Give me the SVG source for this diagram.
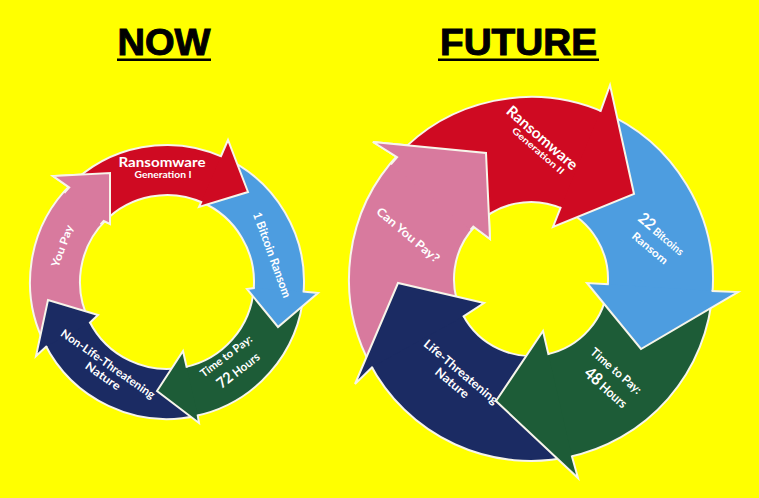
<svg xmlns="http://www.w3.org/2000/svg" width="759" height="498" viewBox="0 0 759 498">
<style>
.rimL{fill:none;stroke:#f7f5ea;stroke-width:52}
.bodyL{fill:none;stroke-width:48}
.rimR{fill:none;stroke:#f7f5ea;stroke-width:107}
.bodyR{fill:none;stroke-width:103}
.head{stroke:#f7f5ea;stroke-width:2;stroke-linejoin:miter}
.rd-b{stroke:#cf0a22}.rd-h{fill:#cf0a22}
.bl-b{stroke:#4d9de0}.bl-h{fill:#4d9de0}
.gr-b{stroke:#1d5c37}.gr-h{fill:#1d5c37}
.nv-b{stroke:#1b2b63}.nv-h{fill:#1b2b63}
.pk-b{stroke:#d87a9e}.pk-h{fill:#d87a9e}
.lbl{fill:#ffffff;font-family:Lato,"DejaVu Sans",sans-serif;font-weight:700;text-anchor:middle}
.ttl{font-family:"Liberation Sans",Arial,sans-serif;font-weight:700;font-size:37px;text-anchor:middle;fill:#000;stroke:#000;stroke-width:1}
</style>
<rect width="759" height="498" fill="#ffff00"/>

<g id="title-now">
<text class="ttl" x="164" y="55" textLength="93" lengthAdjust="spacingAndGlyphs">NOW</text>
<rect x="117" y="58.5" width="94" height="2.5" fill="#000"/>
</g>
<g id="title-future">
<text class="ttl" x="518.5" y="55" textLength="157" lengthAdjust="spacingAndGlyphs">FUTURE</text>
<rect x="438" y="58.5" width="161" height="2.5" fill="#000"/>
</g>

<!-- LEFT cycle (NOW) -->
<g id="now-cycle">
<g id="now-you-pay">
<circle class="rimL" cx="167" cy="282" r="112" transform="rotate(152 167 282)" stroke-dasharray="143.7 2000"/>
<circle class="bodyL pk-b" cx="167" cy="282" r="112" transform="rotate(152 167 282)" stroke-dasharray="143.7 2000"/>
<polyline id="now-pink-head" class="head pk-h" points="100.6,224.3 103.7,220.9 110,224 110,173 53,176 69.2,187.5 64.4,192.8"/>
<text class="lbl" font-size="11" transform="translate(62,246) rotate(-70)" y="4" textLength="44" lengthAdjust="spacingAndGlyphs">You Pay</text>
</g>
<g id="now-nature">
<circle class="rimL" cx="167" cy="282" r="112" transform="rotate(77 167 282)" stroke-dasharray="149.5 2000"/>
<circle class="bodyL nv-b" cx="167" cy="282" r="112" transform="rotate(77 167 282)" stroke-dasharray="149.5 2000"/>
<polyline class="head nv-h" points="89.3,323.3 98,315 48,300 36,356 46.9,345.9"/>
<text class="lbl" font-size="11.5" transform="translate(108,364) rotate(35)" y="4" textLength="112" lengthAdjust="spacingAndGlyphs">Non-Life-Threatening</text>
<text class="lbl" font-size="11.5" transform="translate(103,376) rotate(35)" y="4" textLength="40" lengthAdjust="spacingAndGlyphs">Nature</text>
</g>
<g id="now-time">
<circle class="rimL" cx="167" cy="282" r="112" transform="rotate(4 167 282)" stroke-dasharray="145.6 2000"/>
<circle class="bodyL gr-b" cx="167" cy="282" r="112" transform="rotate(4 167 282)" stroke-dasharray="145.6 2000"/>
<polyline class="head gr-h" points="186.8,367.7 183,351 157,391 199,423 197.6,414.5"/>
<text class="lbl" font-size="11" transform="translate(226,356) rotate(-37)" y="4" textLength="62" lengthAdjust="spacingAndGlyphs">Time to Pay:</text>
<text class="lbl" transform="translate(238,370) rotate(-38)" y="5" textLength="50" lengthAdjust="spacingAndGlyphs"><tspan font-size="15">72</tspan><tspan font-size="12"> Hours</tspan></text>
</g>
<g id="now-bitcoin">
<circle class="rimL" cx="167" cy="282" r="112" transform="rotate(-66.8 167 282)" stroke-dasharray="141.3 2000"/>
<circle class="bodyL bl-b" cx="167" cy="282" r="112" transform="rotate(-66.8 167 282)" stroke-dasharray="141.3 2000"/>
<polyline class="head bl-h" points="254.8,288.1 247,289 278,327 318,293 302.7,291.5"/>
<text class="lbl" font-size="12" transform="translate(272,255) rotate(70)" y="4" textLength="90" lengthAdjust="spacingAndGlyphs">1 Bitcoin Ransom</text>
</g>
<g id="now-ransomware">
<circle class="rimL" cx="167" cy="282" r="112" transform="rotate(-136 167 282)" stroke-dasharray="138.2 2000"/>
<circle class="bodyL rd-b" cx="167" cy="282" r="112" transform="rotate(-136 167 282)" stroke-dasharray="138.2 2000"/>
<polyline class="head rd-h" points="201.7,201.1 199,207 248,192 228,140 220.6,157"/>
<text class="lbl" font-size="13.5" x="162" y="166.5" textLength="87" lengthAdjust="spacingAndGlyphs">Ransomware</text>
<text class="lbl" font-size="8.5" x="163" y="178" textLength="57" lengthAdjust="spacingAndGlyphs">Generation I</text>
</g>
<use href="#now-pink-head"/>
</g>

<!-- RIGHT cycle (FUTURE) -->
<g id="future-cycle">
<g id="future-can-you-pay">
<circle class="rimR" cx="531" cy="279" r="129.5" transform="rotate(151 531 279)" stroke-dasharray="164.5 2000"/>
<circle class="bodyR pk-b" cx="531" cy="279" r="129.5" transform="rotate(151 531 279)" stroke-dasharray="164.5 2000"/>
<polyline id="future-pink-head" class="head pk-h" points="470.6,229.6 473.3,226.5 490,239 486,153 373,142 397.1,157.2 390.9,164.4"/>
<text class="lbl" font-size="12" transform="translate(408,235) rotate(40)" y="4" textLength="78" lengthAdjust="spacingAndGlyphs">Can You Pay?</text>
</g>
<g id="future-nature">
<circle class="rimR" cx="531" cy="279" r="129.5" transform="rotate(77 531 279)" stroke-dasharray="170.6 2000"/>
<circle class="bodyR nv-b" cx="531" cy="279" r="129.5" transform="rotate(77 531 279)" stroke-dasharray="170.6 2000"/>
<polyline class="head nv-h" points="462.8,316.8 484,303 398,283 355,384 372.7,366.7"/>
<text class="lbl" font-size="12" transform="translate(461,372) rotate(40)" y="4" textLength="93" lengthAdjust="spacingAndGlyphs">Life-Threatening</text>
<text class="lbl" font-size="12" transform="translate(452,383) rotate(40)" y="4" textLength="40" lengthAdjust="spacingAndGlyphs">Nature</text>
</g>
<g id="future-time">
<circle class="rimR" cx="531" cy="279" r="129.5" transform="rotate(3.8 531 279)" stroke-dasharray="168.8 2000"/>
<circle class="bodyR gr-b" cx="531" cy="279" r="129.5" transform="rotate(3.8 531 279)" stroke-dasharray="168.8 2000"/>
<polyline class="head gr-h" points="548.6,355 543,331 496,401 578,478 571.7,455.4"/>
<text class="lbl" font-size="12" transform="translate(616,371) rotate(41)" y="4" textLength="63" lengthAdjust="spacingAndGlyphs">Time to Pay:</text>
<text class="lbl" transform="translate(606,388) rotate(41)" y="5" textLength="52" lengthAdjust="spacingAndGlyphs"><tspan font-size="17">48</tspan><tspan font-size="13"> Hours</tspan></text>
</g>
<g id="future-bitcoins">
<circle class="rimR" cx="531" cy="279" r="129.5" transform="rotate(-67.5 531 279)" stroke-dasharray="164.5 2000"/>
<circle class="bodyR bl-b" cx="531" cy="279" r="129.5" transform="rotate(-67.5 531 279)" stroke-dasharray="164.5 2000"/>
<polyline class="head bl-h" points="608.8,284.2 587,283 641,349 738,292 711.6,291"/>
<text class="lbl" transform="translate(661,235) rotate(40)" y="4" textLength="56" lengthAdjust="spacingAndGlyphs"><tspan font-size="16">22</tspan><tspan font-size="11"> Bitcoins</tspan></text>
<text class="lbl" font-size="11" transform="translate(650,248) rotate(40)" y="4" textLength="43" lengthAdjust="spacingAndGlyphs">Ransom</text>
</g>
<g id="future-ransomware">
<circle class="rimR" cx="531" cy="279" r="129.5" transform="rotate(-137.7 531 279)" stroke-dasharray="162.1 2000"/>
<circle class="bodyR rd-b" cx="531" cy="279" r="129.5" transform="rotate(-137.7 531 279)" stroke-dasharray="162.1 2000"/>
<polyline class="head rd-h" points="560.9,206.9 553,227 634,194 610,85 600.3,111.8"/>
<text class="lbl" font-size="15" transform="translate(542,138) rotate(41)" y="5" textLength="89" lengthAdjust="spacingAndGlyphs">Ransomware</text>
<text class="lbl" font-size="9" transform="translate(538,151) rotate(41)" y="3" textLength="66" lengthAdjust="spacingAndGlyphs">Generation II</text>
</g>
<use href="#future-pink-head"/>
</g>
</svg>
